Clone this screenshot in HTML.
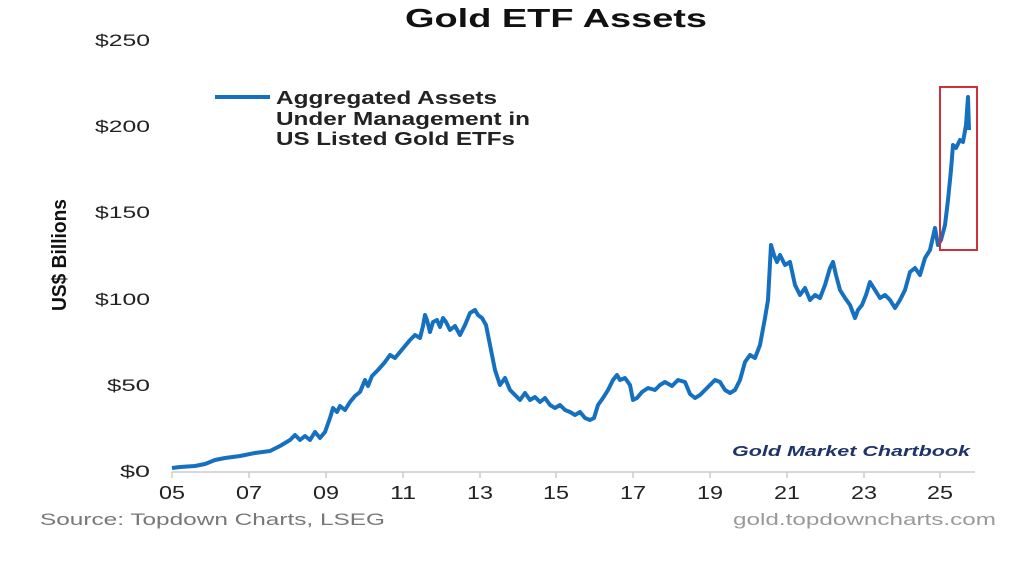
<!DOCTYPE html><html><head><style>body{margin:0;background:#fff}</style></head><body>
<svg width="1024" height="568" xmlns="http://www.w3.org/2000/svg" font-family="Liberation Sans, sans-serif">
<rect width="1024" height="568" fill="#fff"/>
<text x="405" y="27" font-size="26" font-weight="bold" fill="#111" textLength="302" lengthAdjust="spacingAndGlyphs">Gold ETF Assets</text>
<g font-size="17" fill="#222" lengthAdjust="spacingAndGlyphs">
<text x="95" y="46" textLength="55" lengthAdjust="spacingAndGlyphs">$250</text><text x="95" y="132" textLength="55" lengthAdjust="spacingAndGlyphs">$200</text><text x="95" y="218" textLength="55" lengthAdjust="spacingAndGlyphs">$150</text><text x="95" y="305" textLength="55" lengthAdjust="spacingAndGlyphs">$100</text><text x="107" y="391" textLength="43" lengthAdjust="spacingAndGlyphs">$50</text><text x="120" y="477" textLength="30" lengthAdjust="spacingAndGlyphs">$0</text></g>
<text transform="translate(66,255) rotate(-90)" font-size="20" font-weight="bold" text-anchor="middle" fill="#111" textLength="112" lengthAdjust="spacingAndGlyphs">US$ Billions</text>
<line x1="172" y1="472" x2="975" y2="472" stroke="#ccc" stroke-width="1.5"/>
<g stroke="#ccc" stroke-width="1.5"><line x1="172" y1="472" x2="172" y2="478"/><line x1="249" y1="472" x2="249" y2="478"/><line x1="326" y1="472" x2="326" y2="478"/><line x1="403" y1="472" x2="403" y2="478"/><line x1="480" y1="472" x2="480" y2="478"/><line x1="556" y1="472" x2="556" y2="478"/><line x1="633" y1="472" x2="633" y2="478"/><line x1="710" y1="472" x2="710" y2="478"/><line x1="787" y1="472" x2="787" y2="478"/><line x1="864" y1="472" x2="864" y2="478"/><line x1="940" y1="472" x2="940" y2="478"/></g>
<g font-size="18" fill="#222">
<text x="159" y="499" textLength="26" lengthAdjust="spacingAndGlyphs">05</text><text x="236" y="499" textLength="26" lengthAdjust="spacingAndGlyphs">07</text><text x="313" y="499" textLength="26" lengthAdjust="spacingAndGlyphs">09</text><text x="390" y="499" textLength="26" lengthAdjust="spacingAndGlyphs">11</text><text x="467" y="499" textLength="26" lengthAdjust="spacingAndGlyphs">13</text><text x="543" y="499" textLength="26" lengthAdjust="spacingAndGlyphs">15</text><text x="620" y="499" textLength="26" lengthAdjust="spacingAndGlyphs">17</text><text x="697" y="499" textLength="26" lengthAdjust="spacingAndGlyphs">19</text><text x="774" y="499" textLength="26" lengthAdjust="spacingAndGlyphs">21</text><text x="851" y="499" textLength="26" lengthAdjust="spacingAndGlyphs">23</text><text x="927" y="499" textLength="26" lengthAdjust="spacingAndGlyphs">25</text></g>
<line x1="215" y1="97" x2="270" y2="97" stroke="#1570c0" stroke-width="4"/>
<g font-size="18" font-weight="bold" fill="#222"><text x="276" y="104" textLength="221" lengthAdjust="spacingAndGlyphs">Aggregated Assets</text><text x="276" y="125" textLength="254" lengthAdjust="spacingAndGlyphs">Under Management in</text><text x="276" y="145" textLength="239" lengthAdjust="spacingAndGlyphs">US Listed Gold ETFs</text></g>
<polyline fill="none" stroke="#1570c0" stroke-width="4" stroke-linejoin="round" points="172,468 180,467 195,466 205,464 215,460 225,458 240,456 255,453 270,451 280,446 290,440 295,435 300,440 305,436 310,440 315,432 320,438 325,432 330,418 333,408 337,412 340,406 345,410 350,402 355,396 360,392 365,380 368,386 372,376 378,370 385,362 390,355 395,358 400,352 405,346 410,340 415,335 420,338 423,326 425,315 427,320 430,332 433,322 437,320 440,327 443,318 446,322 450,330 455,326 460,335 465,325 470,313 475,310 478,315 482,318 486,325 490,345 495,370 500,385 505,378 510,390 515,395 520,400 525,393 530,400 535,397 540,402 545,398 550,405 555,408 560,405 565,410 570,412 575,415 580,412 585,418 590,420 594,418 598,405 603,398 608,390 613,380 617,375 620,380 625,378 630,385 633,400 637,398 642,392 648,388 655,390 660,385 665,382 672,386 678,380 685,382 690,394 695,398 700,395 705,390 710,385 715,380 720,382 725,390 730,393 735,390 740,380 745,362 750,355 755,358 760,345 765,318 768,300 771,245 774,255 777,262 780,255 785,265 790,262 795,285 800,295 805,288 810,300 815,295 820,298 825,285 830,268 833,262 836,275 840,290 845,298 850,305 855,318 858,310 862,305 866,295 870,282 875,290 880,298 885,295 890,300 895,308 900,300 905,290 910,272 915,268 920,275 925,258 930,250 935,228 938,245 941,240 945,225 948,200 951,170 953,145 956,148 960,140 963,142 966,125 968,97 969,130"/>
<rect x="940" y="87" width="37" height="163" fill="none" stroke="#d0303a" stroke-width="2"/>
<text x="732" y="456" font-size="15" font-weight="bold" font-style="italic" fill="#1f3468" textLength="238" lengthAdjust="spacingAndGlyphs">Gold Market Chartbook</text>
<text x="40" y="525" font-size="17" fill="#777" textLength="345" lengthAdjust="spacingAndGlyphs">Source: Topdown Charts, LSEG</text>
<text x="733" y="525" font-size="17" fill="#999" textLength="263" lengthAdjust="spacingAndGlyphs">gold.topdowncharts.com</text>
</svg></body></html>
